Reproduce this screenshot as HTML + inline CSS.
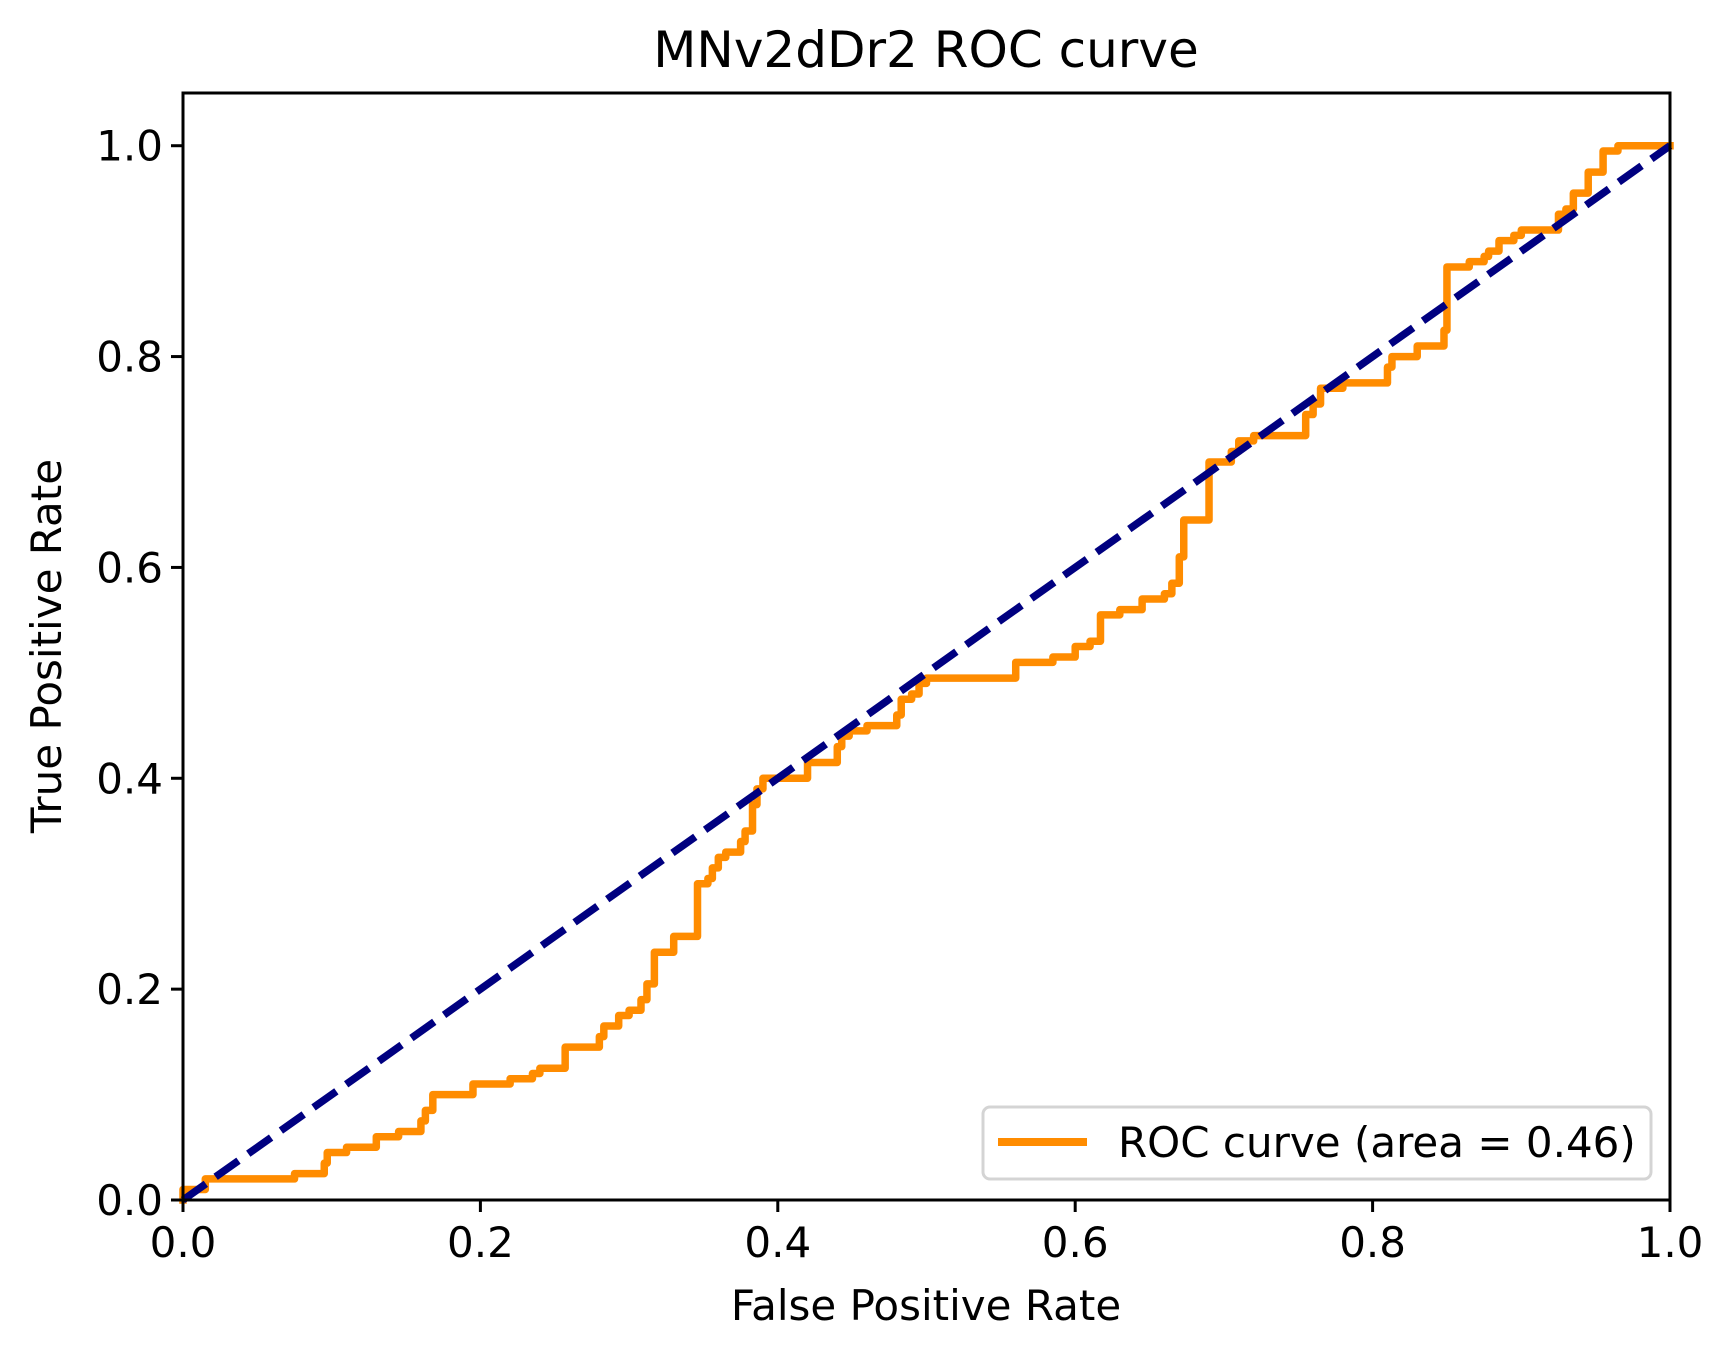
<!DOCTYPE html>
<html><head><meta charset="utf-8"><style>
html,body{margin:0;padding:0;background:#fff;}
svg text{font-family:"DejaVu Sans","Liberation Sans",sans-serif;fill:#000;}
</style></head><body>
<svg id="chart" width="1733" height="1357" viewBox="0 0 1733 1357" xmlns="http://www.w3.org/2000/svg">
<rect width="1733" height="1357" fill="#fff"/>
<text x="926" y="67" font-size="50" text-anchor="middle">MNv2dDr2 ROC curve</text>
<g id="plot"></g>
<g id="axes"></g>
<text x="926" y="1320" font-size="42" text-anchor="middle">False Positive Rate</text>
<text transform="translate(61,646) rotate(-90)" font-size="42" text-anchor="middle">True Positive Rate</text>
<g>
<rect x="983" y="1107" width="668" height="72" rx="7" fill="#fff" stroke="#d4d4d4" stroke-width="3"/>
<line x1="998" y1="1142" x2="1087" y2="1142" stroke="#ff8c00" stroke-width="8"/>
<text x="1118" y="1157" font-size="42">ROC curve (area = 0.46)</text>
</g>
</svg>
<script>
const fpr = [0,0,0.015,0.075,0.095,0.097,0.11,0.13,0.145,0.16,0.163,0.168,0.195,0.22,0.235,0.24,0.257,0.28,0.283,0.293,0.3,0.308,0.312,0.317,0.33,0.346,0.353,0.356,0.36,0.365,0.375,0.378,0.383,0.386,0.39,0.42,0.44,0.443,0.448,0.46,0.48,0.483,0.49,0.495,0.5,0.56,0.585,0.6,0.61,0.617,0.63,0.645,0.66,0.665,0.67,0.673,0.69,0.705,0.71,0.72,0.755,0.76,0.765,0.78,0.81,0.813,0.83,0.848,0.85,0.865,0.875,0.878,0.885,0.895,0.9,0.925,0.93,0.935,0.945,0.955,0.965,1.0];
const tpr = [0,0.01,0.02,0.025,0.035,0.045,0.05,0.06,0.065,0.075,0.085,0.1,0.11,0.115,0.12,0.125,0.145,0.155,0.165,0.175,0.18,0.19,0.205,0.235,0.25,0.3,0.305,0.315,0.325,0.33,0.34,0.35,0.375,0.39,0.4,0.415,0.43,0.44,0.445,0.45,0.46,0.475,0.48,0.49,0.495,0.51,0.515,0.525,0.53,0.555,0.56,0.57,0.575,0.585,0.61,0.645,0.7,0.71,0.72,0.725,0.745,0.755,0.77,0.775,0.79,0.8,0.81,0.825,0.885,0.89,0.895,0.9,0.91,0.915,0.92,0.935,0.94,0.955,0.975,0.995,1.0,1.0];
const xTicks = [0,0.2,0.4,0.6,0.8,1.0];
const yTicks = [0,0.2,0.4,0.6,0.8,1.0];
const xTickLabels = ["0.0","0.2","0.4","0.6","0.8","1.0"];
const yTickLabels = ["0.0","0.2","0.4","0.6","0.8","1.0"];

const L=183,R=1670,T=93,B=1200;
const xs=v=>L+(R-L)*v;
const ys=v=>B-(B-T)*v/1.05;
const NS="http://www.w3.org/2000/svg";
const plot=document.getElementById('plot'), axes=document.getElementById('axes');
function mk(tag,attrs,parent){const e=document.createElementNS(NS,tag);for(const k in attrs)e.setAttribute(k,attrs[k]);parent.appendChild(e);return e;}

let d=`M${xs(fpr[0])},${ys(tpr[0])}`;
for(let i=1;i<fpr.length;i++){d+=` L${xs(fpr[i])},${ys(tpr[i-1])} L${xs(fpr[i])},${ys(tpr[i])}`;}
const roc=mk('path',{d:d,fill:'none',stroke:'#ff8c00','stroke-width':7.5,'stroke-linejoin':'round','stroke-linecap':'square'},plot);



const diag=mk('line',{x1:xs(0),y1:ys(0),x2:xs(1),y2:ys(1),stroke:'#000080','stroke-width':7.5,'stroke-dasharray':'28 12'},plot);



const fr=mk('rect',{x:L,y:T,width:R-L,height:B-T,fill:'none',stroke:'#000','stroke-width':3},axes);



xTicks.forEach((v,i)=>{
  const t=mk('line',{x1:xs(v),y1:B,x2:xs(v),y2:B+12,stroke:'#000','stroke-width':3},axes);
  
  
  const tx=mk('text',{x:xs(v),y:B+57,'font-size':42,'text-anchor':'middle'},axes);
  tx.textContent=xTickLabels[i];
  
  
});
yTicks.forEach((v,i)=>{
  const t=mk('line',{x1:L-12,y1:ys(v),x2:L,y2:ys(v),stroke:'#000','stroke-width':3},axes);
  
  
  const tx=mk('text',{x:L-20,y:ys(v)+15,'font-size':42,'text-anchor':'end'},axes);
  tx.textContent=yTickLabels[i];
  
  
});
</script>
</body></html>
